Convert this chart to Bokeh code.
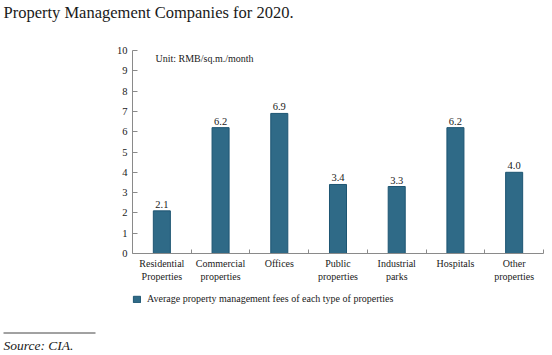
from bokeh.plotting import figure
from bokeh.models import (Range1d, FixedTicker, ColumnDataSource, LabelSet, Label,
                          Legend, LegendItem, Arrow)
from bokeh.embed import file_html
from bokeh.resources import INLINE

# ---- data ----
categories = ["Residential\nProperties", "Commercial\nproperties", "Offices",
              "Public\nproperties", "Industrial\nparks", "Hospitals", "Other\nproperties"]
fees = [2.1, 6.2, 6.9, 3.4, 3.3, 6.2, 4.0]
y_ticks = [0, 1, 2, 3, 4, 5, 6, 7, 8, 9, 10]
title_text = "Property Management Companies for 2020."
unit_text = "Unit: RMB/sq.m./month"
series_name = "Average property management fees of each type of properties"
source_text = "Source: CIA."

# ---- style / layout ----
FONT = "Liberation Serif"
TXT = "#1a1a1a"
AXIS = "#8a8a8a"
BAR = "#2f6a87"
BAR_EDGE = "#1d5572"

W, H = 552, 355
AX_L, AX_R, AX_T, AX_B = 132, 543, 50, 253   # axes box on the canvas (px)
n = len(categories)
YMAX = 10

kx = (AX_R - AX_L) / n          # px per category
ky = (AX_B - AX_T) / YMAX       # px per unit
x_range = Range1d(-AX_L / kx, n + (W - AX_R) / kx)
y_range = Range1d(-(H - AX_B) / ky, YMAX + AX_T / ky)

p = figure(width=W, height=H, output_backend="svg", toolbar_location=None,
           x_range=x_range, y_range=y_range, min_border=0)
p.outline_line_color = None
p.xgrid.visible = False
p.ygrid.visible = False
p.background_fill_color = "white"
p.border_fill_color = "white"

def dx(cx):
    return (cx - AX_L) / kx
def dy(cy):
    return (AX_B - cy) / ky

xs = [i + 0.5 for i in range(n)]
src = ColumnDataSource(dict(x=xs, top=fees, label=[f"{v:.1f}" for v in fees]))
bars = p.vbar(x="x", top="top", width=0.29, source=src,
              fill_color=BAR, line_color=BAR_EDGE, line_width=1)

p.add_layout(LabelSet(x="x", y="top", text="label", source=src,
                      text_align="center", text_baseline="alphabetic", y_offset=3,
                      text_font=FONT, text_font_size="10.5px", text_color=TXT))

# x axis (drawn at y = 0)
xa = p.xaxis[0]
xa.fixed_location = 0
xa.bounds = (0, n)
xa.ticker = FixedTicker(ticks=xs, minor_ticks=list(range(1, n + 1)))
xa.major_label_overrides = {x: c for x, c in zip(xs, categories)}
xa.major_tick_line_color = None
xa.major_tick_in = 0
xa.major_tick_out = 0
xa.minor_tick_in = 4
xa.minor_tick_out = 0
xa.minor_tick_line_color = AXIS
xa.axis_line_color = AXIS
xa.major_label_text_font = FONT
xa.major_label_text_font_size = "10px"
xa.major_label_text_color = TXT
xa.major_label_standoff = 4

# y axis (drawn at x = 0)
ya = p.yaxis[0]
ya.fixed_location = 0
ya.bounds = (0, YMAX)
ya.ticker = FixedTicker(ticks=y_ticks)
ya.major_tick_in = 5
ya.major_tick_out = 0
ya.major_tick_line_color = AXIS
ya.minor_tick_line_color = None
ya.axis_line_color = AXIS
ya.major_label_text_font = FONT
ya.major_label_text_font_size = "10.5px"
ya.major_label_text_color = TXT
ya.major_label_standoff = 5

# legend
legend = Legend(items=[LegendItem(label=series_name, renderers=[bars])],
                location=(AX_L, H - 304), padding=0, margin=0, spacing=0,
                glyph_width=9, glyph_height=8, label_height=8, label_standoff=6,
                label_text_font=FONT, label_text_font_size="10px",
                label_text_color=TXT, border_line_color=None,
                background_fill_alpha=0)
p.add_layout(legend)

# texts
p.add_layout(Label(x=dx(3), y=dy(12), text=title_text, text_align="left",
                   text_baseline="middle", text_font=FONT, text_font_size="16.5px",
                   text_color=TXT))
p.add_layout(Label(x=dx(155), y=dy(58), text=unit_text, text_align="left",
                   text_baseline="middle", text_font=FONT, text_font_size="10px",
                   text_color=TXT))
p.add_layout(Arrow(start=None, end=None, x_start=dx(3), y_start=dy(332.5),
                   x_end=dx(95), y_end=dy(332.5), line_color="#444444", line_width=1))
p.add_layout(Label(x=dx(3), y=dy(345), text=source_text, text_align="left",
                   text_baseline="middle", text_font=FONT, text_font_size="13.5px",
                   text_font_style="italic", text_color=TXT))

open("out.html", "w").write(file_html(p, INLINE))
